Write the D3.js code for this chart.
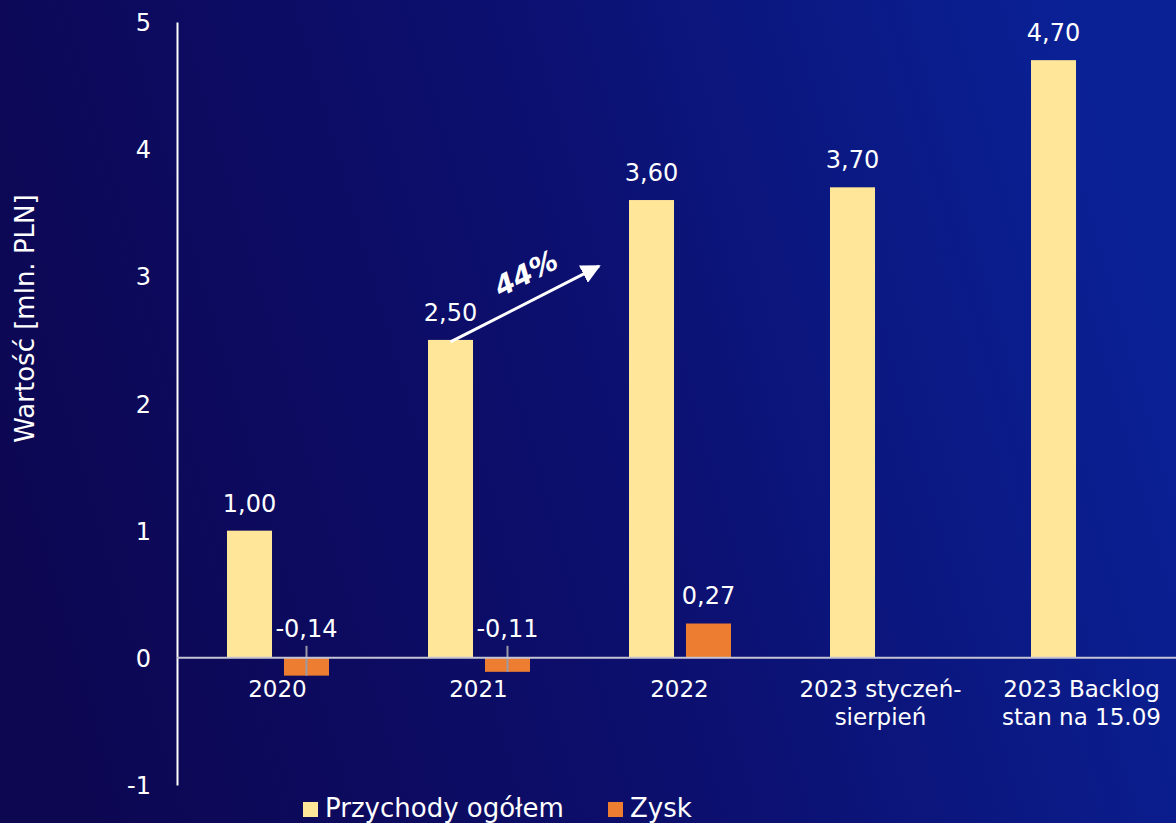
<!DOCTYPE html>
<html>
<head>
<meta charset="utf-8">
<script src="https://cdn.jsdelivr.net/npm/d3@7"></script>
<style>
  html, body { margin: 0; padding: 0; overflow: hidden; }
  svg { display: block; }
  text { font-family: "DejaVu Sans", "Noto Sans", sans-serif; fill: #ffffff; }
</style>
</head>
<body>
<svg id="chart" width="1176" height="823"></svg>
<script>
// Categories (line breaks mark wrapped axis labels)
const categories = ["2020", "2021", "2022", "2023 styczeń-\nsierpień", "2023 Backlog\nstan na 15.09"];
const seriesNames = ["Przychody ogółem", "Zysk"];
const revenue = [1.00, 2.50, 3.60, 3.70, 4.70];
const profit = [-0.14, -0.11, 0.27, null, null];
const yTicks = [-1, 0, 1, 2, 3, 4, 5];
const growthLabel = "44%";
const yTitle = "Wartość [mln. PLN]";

const colors = { "Przychody ogółem": "#ffe699", "Zysk": "#ed7d31" };

const W = 1176, H = 823;
const svg = d3.select("#chart");

// background gradient
const defs = svg.append("defs");
const grad = defs.append("linearGradient").attr("id", "bg")
  .attr("x1", "0%").attr("y1", "60%").attr("x2", "100%").attr("y2", "40%");
grad.append("stop").attr("offset", "0%").attr("stop-color", "#0d0752");
grad.append("stop").attr("offset", "50%").attr("stop-color", "#0c0f6e");
grad.append("stop").attr("offset", "100%").attr("stop-color", "#0a2196");
svg.append("rect").attr("width", W).attr("height", H).attr("fill", "url(#bg)");

defs.append("marker").attr("id", "arrowHead")
  .attr("viewBox", "0 0 10 10").attr("refX", 9).attr("refY", 5)
  .attr("markerWidth", 6.5).attr("markerHeight", 6.5).attr("markerUnits", "strokeWidth")
  .attr("orient", "auto")
  .append("path").attr("d", "M0,0 L10,5 L0,10 z").attr("fill", "#ffffff");

// scales
const y = d3.scaleLinear().domain([-1, 5]).range([785, 22]);
const x0 = d3.scaleBand().domain(categories).range([177, 1182]);
const x1 = d3.scaleBand().domain(seriesNames).range([50, 152]).paddingInner(0.21);

const fmt = v => d3.format(".2f")(v).replace(".", ",").replace("\u2212", "-");

// y axis
const yAxis = svg.append("g").attr("transform", `translate(${x0.range()[0]},0)`)
  .call(d3.axisLeft(y).tickValues(yTicks).tickSize(0).tickPadding(26).tickFormat(d => String(d)));
yAxis.select(".domain").attr("stroke", "#ffffff").attr("stroke-width", 2);
yAxis.selectAll("text").style("font-size", "24px").attr("fill", "#ffffff")
  .style("font-family", '"DejaVu Sans", sans-serif').attr("dy", "0.36em");

svg.append("text")
  .attr("transform", `translate(34,${(y(-1) + y(5)) / 2 - 85}) rotate(-90)`)
  .attr("text-anchor", "middle").style("font-size", "26px").text(yTitle);

// bars
const rows = categories.map((c, i) => ({ cat: c, vals: [
  { key: seriesNames[0], v: revenue[i] },
  { key: seriesNames[1], v: profit[i] }
].filter(d => d.v !== null) }));

const groups = svg.append("g").selectAll("g").data(rows).join("g")
  .attr("transform", d => `translate(${x0(d.cat)},0)`);

groups.selectAll("rect").data(d => d.vals).join("rect")
  .attr("x", d => x1(d.key))
  .attr("width", x1.bandwidth())
  .attr("y", d => y(Math.max(0, d.v)))
  .attr("height", d => Math.abs(y(d.v) - y(0)))
  .attr("fill", d => colors[d.key]);

// zero line
svg.append("line")
  .attr("x1", x0.range()[0]).attr("x2", W)
  .attr("y1", y(0)).attr("y2", y(0))
  .attr("stroke", "#c4c4d4").attr("stroke-width", 2);

// leader lines for negative values
groups.selectAll("line.leader").data(d => d.vals.filter(v => v.v < 0)).join("line")
  .attr("class", "leader")
  .attr("x1", d => x1(d.key) + x1.bandwidth() / 2)
  .attr("x2", d => x1(d.key) + x1.bandwidth() / 2)
  .attr("y1", y(0) - 12).attr("y2", d => y(d.v))
  .attr("stroke", "#9a9aa6").attr("stroke-width", 2);

// value labels
groups.selectAll("text.val").data(d => d.vals).join("text")
  .attr("class", "val")
  .attr("x", d => x1(d.key) + x1.bandwidth() / 2)
  .attr("y", d => d.v >= 0 ? y(d.v) - 19 : y(0) - 21)
  .attr("text-anchor", "middle")
  .style("font-size", "24px")
  .text(d => fmt(d.v));

// category labels
const catLabels = svg.append("g").selectAll("text").data(categories).join("text")
  .attr("x", d => x0(d) + x0.bandwidth() / 2)
  .attr("y", 697)
  .attr("text-anchor", "middle")
  .style("font-size", "23px");
catLabels.selectAll("tspan").data(d => d.split("\n")).join("tspan")
  .attr("x", function () { return d3.select(this.parentNode).attr("x"); })
  .attr("dy", (d, i) => i === 0 ? 0 : 28)
  .text(d => d);

// growth arrow from 2021 revenue toward 2022
const ax1 = x0(categories[1]) + x1(seriesNames[0]) + x1.bandwidth() / 2;
const ay1 = y(revenue[1]) + 2;
const ax2 = x0(categories[2]) + 20;
const ay2 = y(3.08);
svg.append("line")
  .attr("x1", ax1).attr("y1", ay1).attr("x2", ax2).attr("y2", ay2)
  .attr("stroke", "#ffffff").attr("stroke-width", 3)
  .attr("marker-end", "url(#arrowHead)");
const ang = Math.atan2(ay2 - ay1, ax2 - ax1) * 180 / Math.PI;
svg.append("text")
  .attr("transform", `translate(${(ax1 + ax2) / 2},${(ay1 + ay2) / 2}) rotate(${ang})`)
  .attr("x", 15).attr("y", -17)
  .attr("text-anchor", "middle")
  .style("font-size", "28px").style("font-weight", "700").style("font-style", "italic")
  .text(growthLabel);

// legend
const legend = svg.append("g").selectAll("g").data(seriesNames).join("g")
  .attr("transform", (d, i) => `translate(${[303, 608][i]},0)`);
legend.append("rect").attr("x", 0).attr("y", 802).attr("width", 15).attr("height", 15)
  .attr("fill", d => colors[d]);
legend.append("text").attr("x", 22).attr("y", 817).style("font-size", "26px").text(d => d);
</script>
</body>
</html>
